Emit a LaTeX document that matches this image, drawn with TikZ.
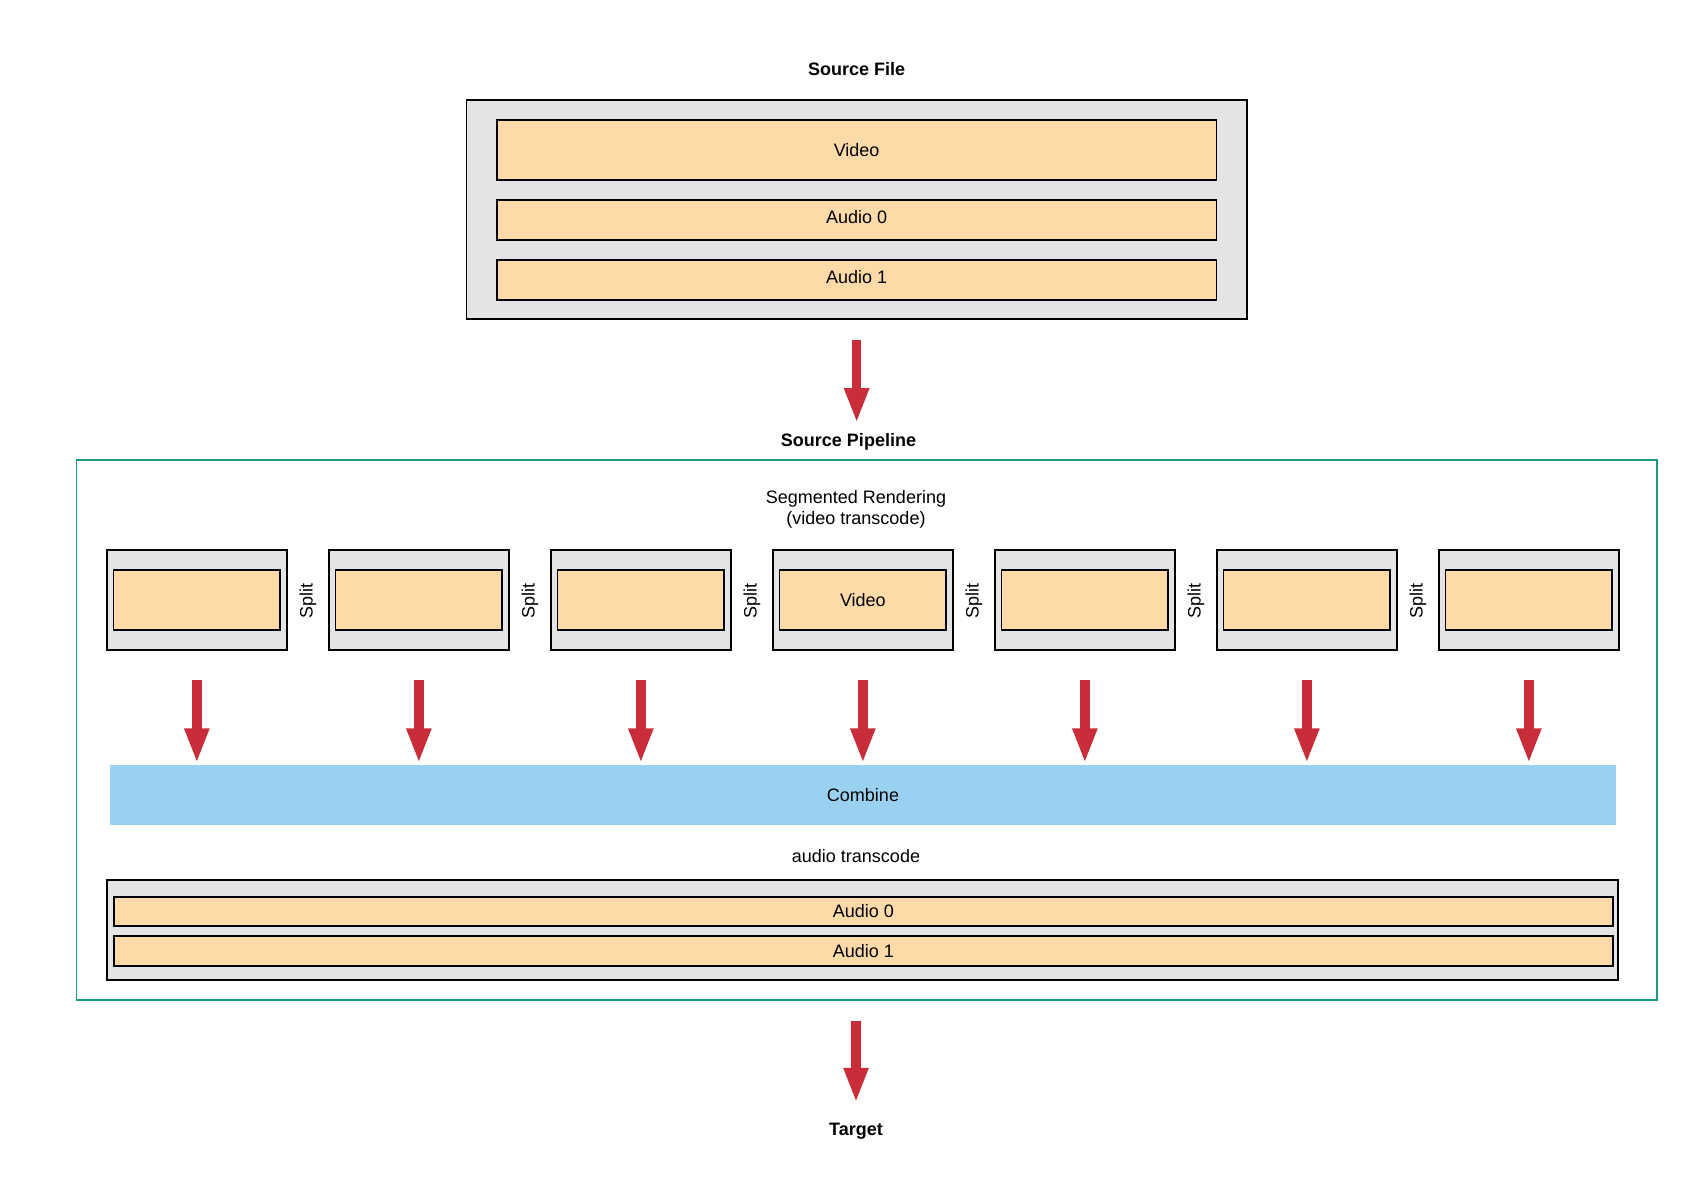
\documentclass[tikz,border=0pt]{standalone}
\usepackage{fontspec}
\setmainfont{Liberation Sans}
\usetikzlibrary{arrows.meta}
\definecolor{boxgray}{HTML}{E4E4E4}
\definecolor{trackorange}{HTML}{FEDAA8}
\definecolor{combblue}{HTML}{9AD1F1}
\definecolor{pipegreen}{HTML}{1A9B82}
\definecolor{arrowred}{HTML}{C92D39}
\begin{document}
\begin{tikzpicture}[x=0.5pt,y=-0.5pt,
  every node/.style={font=\fontsize{9}{10.8}\selectfont},
  outerbox/.style={draw=black, line width=0.85pt, fill=boxgray, inner sep=0pt, outer sep=0pt},
  track/.style={draw=black, line width=0.85pt, fill=trackorange, inner sep=0pt, outer sep=0pt},
  raised/.style={text height=6.45pt, text depth=2.5pt},
  title/.style={font=\bfseries\fontsize{9}{10.8}\selectfont},
  bigarrow/.style={draw=arrowred, line width=4.65pt, -{Triangle[width=11.35pt,length=17.5pt]}}]
\useasboundingbox (0,0) rectangle (1697,1200);

% Source file
\node[title] (srctitle) at (856.65,69) {Source File};
\node[outerbox, minimum width=390.15pt, minimum height=109.8pt] (src) at (856.65,209.5) {};
\node[track, minimum width=359.85pt, minimum height=30.15pt] (srcvideo) at (856.65,149.85) {Video};
\node[track, raised, minimum width=359.85pt, minimum height=20pt] (srcaudio0) at (856.65,220) {Audio 0};
\node[track, raised, minimum width=359.85pt, minimum height=20pt] (srcaudio1) at (856.65,279.7) {Audio 1};

% Pipeline
\node[title] (pipetitle) at (848.5,442.2) {Source Pipeline};
\node[draw=pipegreen, line width=0.7pt, minimum width=790.15pt, minimum height=270pt, inner sep=0pt, outer sep=0pt] (pipe) at (866.85,730) {};
\node[align=center, font=\fontsize{9}{10.4}\selectfont] (segtitle) at (856,509.1) {Segmented Rendering\\(video transcode)};

\foreach \i in {0,...,6}{
  \node[outerbox, minimum width=90.15pt, minimum height=50.15pt] (seg\i) at ({196.85+222*\i},599.85) {};
  \node[track, minimum width=83.3pt, minimum height=30.15pt] (segin\i) at ({196.85+222*\i},599.85) {\ifnum\i=3 Video\fi};
}
\foreach \i in {0,...,5}{
  \node[rotate=90] (split\i) at ({307.9+222*\i},601) {Split};
}

\node[fill=combblue, minimum width=753pt, minimum height=30pt, inner sep=0pt, outer sep=0pt] (comb) at (863,795) {Combine};

\foreach \i in {0,...,6}{
  \draw[bigarrow, shorten <=15pt, shorten >=0.85pt] (seg\i.south) -- (seg\i.south |- comb.north);
}

\node (atlabel) at (856,856) {audio transcode};
\node[outerbox, minimum width=755.65pt, minimum height=50.15pt] (audbox) at (862.65,929.85) {};
\node[track, minimum width=749.65pt, minimum height=14.5pt] (aud0) at (863.35,911.2) {Audio 0};
\node[track, minimum width=749.65pt, minimum height=15.15pt] (aud1) at (863.35,950.85) {Audio 1};

% Arrows between stages
\coordinate (a1end) at (856.65,418.9);
\draw[bigarrow, shorten <=10.25pt, shorten >=-2.15pt] (src.south -| a1end) -- (a1end);
\coordinate (a2end) at (856,1098.5);
\draw[bigarrow, shorten <=10.3pt, shorten >=-2.15pt] (pipe.south -| a2end) -- (a2end);

\node[title] (target) at (856,1130.8) {Target};
\end{tikzpicture}
\end{document}
